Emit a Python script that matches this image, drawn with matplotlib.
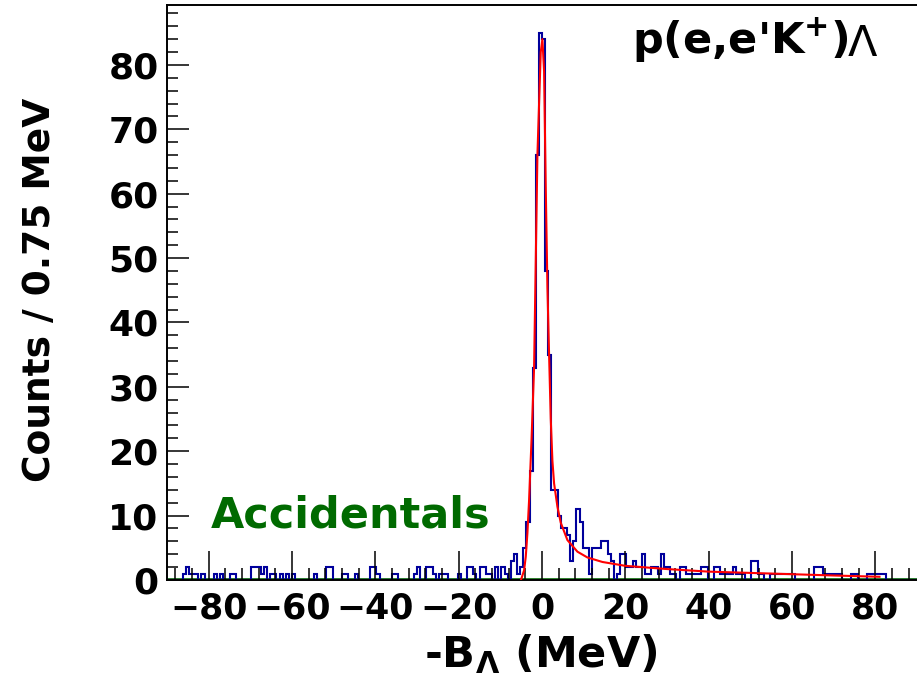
import numpy as np
import matplotlib
matplotlib.use("Agg")
import matplotlib.pyplot as plt
from matplotlib.ticker import MultipleLocator

plt.rcParams["font.family"] = ["DejaVu Sans"]
plt.rcParams["font.weight"] = "bold"
plt.rcParams["mathtext.fontset"] = "dejavusans"

# binning: -90..90 MeV, 0.75 MeV per bin
x_lo, x_hi, bin_width = -90.0, 90.0, 0.75

# counts per bin, 20 bins (15 MeV) per row
counts = [
    0, 0, 0, 0, 0, 1, 2, 1, 1, 1, 0, 1, 0, 0, 0, 1, 0, 1, 0, 0,
    1, 1, 0, 0, 0, 0, 0, 2, 2, 2, 1, 2, 0, 1, 1, 0, 1, 0, 1, 0,
    1, 0, 0, 0, 0, 0, 0, 1, 0, 0, 0, 2, 2, 0, 0, 0, 1, 1, 0, 0,
    1, 0, 0, 0, 0, 2, 2, 1, 0, 0, 0, 0, 1, 1, 0, 0, 0, 0, 0, 1,
    2, 0, 0, 2, 2, 1, 0, 1, 1, 1, 0, 0, 0, 1, 0, 0, 2, 2, 1, 0,
    2, 2, 1, 1, 0, 2, 0, 2, 1, 0, 3, 4, 1, 2, 5, 9, 17, 33, 66, 85,
    84, 48, 35, 14, 14, 10, 8, 8, 7, 3, 6, 11, 9, 5, 5, 1, 5, 5, 5, 6,
    6, 4, 3, 0, 1, 4, 4, 2, 2, 3, 2, 2, 4, 1, 1, 2, 2, 1, 4, 2,
    2, 1, 1, 0, 2, 2, 1, 1, 1, 1, 1, 2, 2, 0, 0, 2, 2, 1, 1, 1,
    1, 2, 1, 1, 1, 0, 0, 3, 3, 1, 1, 0, 0, 1, 1, 1, 1, 1, 1, 1,
    1, 0, 0, 0, 0, 0, 0, 2, 2, 2, 1, 1, 1, 1, 1, 1, 0, 0, 0, 1,
    1, 0, 0, 0, 1, 1, 1, 1, 1, 1, 0, 0, 0, 0, 0, 0, 0, 0, 0, 0,
]

# accidentals histogram (flat at zero on this scale)
accidentals = np.zeros(len(counts))

# fit curve
fit_x = [-5.0, -4.3, -3.9, -3.5, -3.1, -2.5, -1.9, -1.1, -0.3, 0.1, 0.5, 0.9,
         1.3, 1.7, 2.1, 2.5, 2.9, 3.7, 4.5, 6.1, 8.5, 10.9, 14.5, 20, 30, 40,
         50, 60, 70, 81]
fit_y = [0.1, 1.5, 3.6, 7.3, 12.4, 22, 33, 66, 82, 84, 79, 61,
         45.5, 35, 25, 18.5, 15, 11.4, 8.9, 6.2, 4.4, 3.5, 2.8, 2.2, 1.7, 1.3,
         1.1, 0.9, 0.7, 0.5]

edges = np.linspace(x_lo, x_hi, len(counts) + 1)

fig = plt.figure(figsize=(9.17, 6.87), dpi=100)
ax = fig.add_axes([167 / 917, 107 / 687, 750 / 917, 575 / 687])

ax.stairs(accidentals, edges, color="#006400", lw=2.6, zorder=1)
ax.stairs(counts, edges, color="#00009c", lw=1.5, zorder=2)
ax.plot(fit_x, fit_y, color="#ff0000", lw=1.5, zorder=4)

ax.set_xlim(x_lo, x_hi)
ax.set_ylim(0, 89.3)

ax.xaxis.set_major_locator(MultipleLocator(20))
ax.xaxis.set_minor_locator(MultipleLocator(4))
ax.yaxis.set_major_locator(MultipleLocator(10))
ax.yaxis.set_minor_locator(MultipleLocator(2))
ax.set_axisbelow(False)

ax.tick_params(axis="x", which="major", direction="in", length=21, width=1.1,
               labelsize=25, pad=8)
ax.tick_params(axis="x", which="minor", direction="in", length=9, width=1.1)
ax.tick_params(axis="y", which="major", direction="in", length=16, width=1.1,
               labelsize=26, pad=6)
ax.tick_params(axis="y", which="minor", direction="in", length=8, width=1.1)
ax.tick_params(top=False, right=False, which="both")

ax.spines["right"].set_visible(False)
for s in ["left", "top", "bottom"]:
    ax.spines[s].set_linewidth(1.4)

ax.text(-46, 8.2, "Accidentals", color="#006a00", fontsize=31,
        fontweight="bold", ha="center", va="baseline")

t1 = ax.text(47.5, 80.0, r"p(e,e'K$^{\mathbf{+}}$)", fontsize=31,
             fontweight="bold", ha="center", va="bottom")
ax.annotate("Λ", xy=(1, 0), xycoords=t1, fontsize=31, fontweight="normal",
            ha="left", va="bottom")

fig.text(40 / 917, 1 - 290 / 687, "Counts / 0.75 MeV", rotation=90,
         fontsize=27, fontweight="bold", ha="center", va="center")
fig.text(541 / 917, 1 - 667 / 687, r"-B$_{\Lambda}$ (MeV)", fontsize=31,
         fontweight="bold", ha="center", va="baseline")

fig.savefig("out.png", dpi=100)
